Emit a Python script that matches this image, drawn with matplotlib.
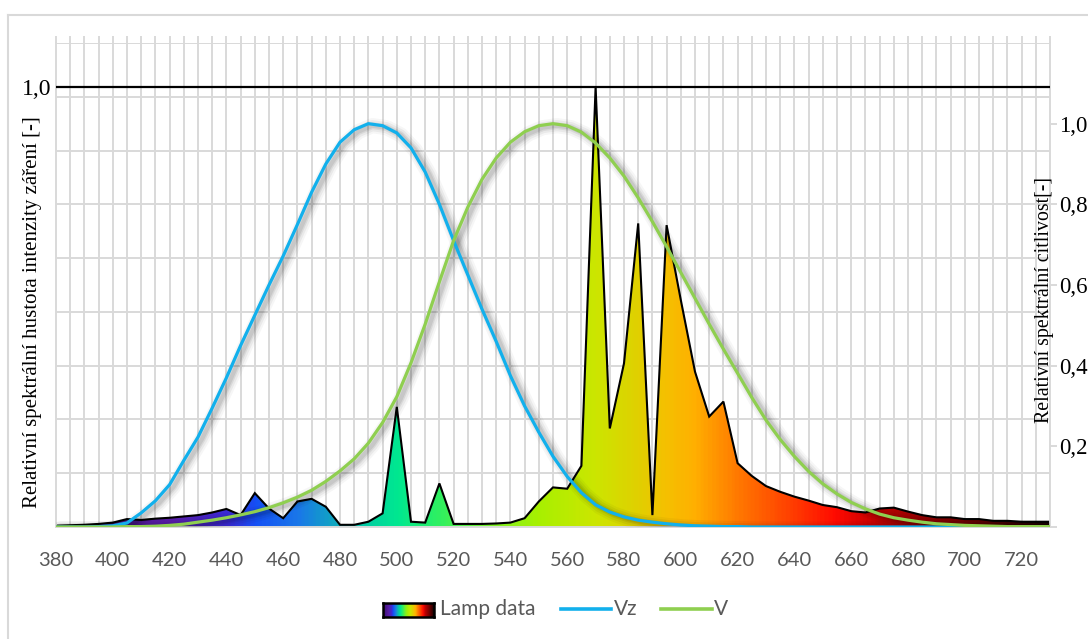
import matplotlib
matplotlib.use("Agg")
import numpy as np
import matplotlib.pyplot as plt
from matplotlib.colors import LinearSegmentedColormap
from matplotlib.patches import Polygon
from matplotlib.lines import Line2D
from matplotlib import transforms
from matplotlib.ticker import MultipleLocator, FixedLocator

# ---- data -------------------------------------------------------------
wavelengths = [380, 385, 390, 395, 400, 405, 410, 415, 420, 425, 430, 435,
               440, 445, 450, 455, 460, 465, 470, 475, 480, 485, 490, 495,
               500, 505, 510, 515, 520, 525, 530, 535, 540, 545, 550, 555,
               560, 565, 570, 575, 580, 585, 590, 595, 600, 605, 610, 615,
               620, 625, 630, 635, 640, 645, 650, 655, 660, 665, 670, 675,
               680, 685, 690, 695, 700, 705, 710, 715, 720, 725, 730]

lamp_data = [0.003, 0.004, 0.005, 0.007, 0.010, 0.018, 0.016, 0.019, 0.021,
             0.024, 0.027, 0.033, 0.041, 0.027, 0.077, 0.042, 0.020, 0.058,
             0.064, 0.046, 0.005, 0.005, 0.012, 0.031, 0.273, 0.012, 0.010,
             0.099, 0.007, 0.007, 0.007, 0.008, 0.010, 0.020, 0.058, 0.090,
             0.087, 0.139, 1.000, 0.224, 0.372, 0.690, 0.027, 0.686, 0.516,
             0.353, 0.251, 0.285, 0.145, 0.116, 0.093, 0.080, 0.069, 0.060,
             0.050, 0.045, 0.036, 0.033, 0.042, 0.044, 0.035, 0.027, 0.022,
             0.022, 0.018, 0.018, 0.014, 0.014, 0.012, 0.012, 0.012]

vz_curve = [0.000, 0.000, 0.000, 0.001, 0.003, 0.010, 0.035, 0.065, 0.105,
            0.165, 0.223, 0.295, 0.370, 0.450, 0.525, 0.600, 0.672, 0.750,
            0.830, 0.900, 0.954, 0.985, 1.000, 0.995, 0.977, 0.940, 0.880,
            0.800, 0.710, 0.625, 0.540, 0.460, 0.375, 0.300, 0.235, 0.175,
            0.125, 0.085, 0.055, 0.037, 0.025, 0.017, 0.012, 0.008, 0.005,
            0.003, 0.002, 0.001, 0.001, 0.000, 0.000, 0.000, 0.000, 0.000,
            0.000, 0.000, 0.000, 0.000, 0.000, 0.000, 0.000, 0.000, 0.000,
            0.000, 0.000, 0.000, 0.000, 0.000, 0.000, 0.000, 0.000]

v_curve = [0.000, 0.000, 0.000, 0.000, 0.000, 0.001, 0.001, 0.002, 0.004,
           0.007, 0.012, 0.017, 0.023, 0.030, 0.038, 0.048, 0.060, 0.074,
           0.091, 0.113, 0.139, 0.169, 0.208, 0.259, 0.323, 0.407, 0.503,
           0.608, 0.710, 0.793, 0.862, 0.915, 0.954, 0.980, 0.995, 1.000,
           0.995, 0.979, 0.952, 0.915, 0.870, 0.816, 0.757, 0.695, 0.631,
           0.567, 0.503, 0.441, 0.381, 0.321, 0.265, 0.217, 0.175, 0.138,
           0.107, 0.082, 0.061, 0.045, 0.032, 0.023, 0.017, 0.012, 0.008,
           0.006, 0.004, 0.003, 0.002, 0.001, 0.001, 0.001, 0.001]

x_tick_values = [380, 400, 420, 440, 460, 480, 500, 520, 540, 560, 580, 600,
                 620, 640, 660, 680, 700, 720]
right_tick_values = [0.0, 0.2, 0.4, 0.6, 0.8, 1.0]
right_tick_labels = ["", "0,2", "0,4", "0,6", "0,8", "1,0"]

left_label = "Relativní spektrální hustota intenzity záření [-]"
right_label = "Relativní spektrální citlivost[-]"
series_names = ["Lamp data", "Vz", "V"]

# ---- styling ----------------------------------------------------------
W, H = 1088, 639
BLUE = "#12b0ec"
GREEN = "#8fcf50"
GRID = "#d9d9d9"
TEXT = "#595959"
SANS = ["Lato", "DejaVu Sans"]
SERIF = ["Liberation Serif", "DejaVu Serif"]

# wavelength-to-colour ramp for the spectrum fill
spec_stops = [(380, "#3b0f70"), (420, "#5a1ea8"), (440, "#3a2ad8"),
              (450, "#1450f5"), (465, "#1a78e8"), (478, "#10a8c0"),
              (490, "#00d0a0"), (500, "#00e890"), (515, "#30f060"),
              (535, "#80f020"), (550, "#a8f000"), (570, "#cce600"),
              (585, "#e0d000"), (595, "#f5c000"), (605, "#ffb000"),
              (620, "#ff7a00"), (640, "#ff3c00"), (655, "#ff0a00"),
              (670, "#c00000"), (700, "#700000"), (730, "#1a0000")]
spec_cmap = LinearSegmentedColormap.from_list(
    "spectrum", [((w - 380) / 350, c) for w, c in spec_stops])

fig = plt.figure(figsize=(W / 100, H / 100), dpi=100)


def fx(px):
    return px / W


def fy(py):
    return 1 - py / H


# chart-area frame
fig.add_artist(Line2D([fx(8), 1.0], [fy(15), fy(15)], transform=fig.transFigure,
                      color=GRID, lw=1.5))
fig.add_artist(Line2D([fx(8), fx(8)], [fy(15), 0.0], transform=fig.transFigure,
                      color=GRID, lw=1.5))

left, right, top, bottom = 56, 1050, 43, 527
ax = fig.add_axes([fx(left), fy(bottom), fx(right - left), (bottom - top) / H])
ax.set_xlim(380, 730)
ax.set_ylim(0, 1.1)

# grid: vertical every 5 nm, horizontal in nine equal bands
for w in wavelengths[1:-1]:
    ax.axvline(w, color=GRID, lw=1.4, zorder=0.5)
for k in range(1, 10):
    ax.axhline(1.1 * k / 9, color=GRID, lw=1.4, zorder=0.5)

for side in ("left", "right", "bottom", "top"):
    ax.spines[side].set_color(GRID)
    ax.spines[side].set_linewidth(1.4)
ax.spines["top"].set_visible(False)

ax.xaxis.set_major_locator(FixedLocator(x_tick_values))
ax.set_xticklabels([str(v) for v in x_tick_values])
ax.xaxis.set_minor_locator(MultipleLocator(5))
ax.tick_params(axis="x", which="both", bottom=False, top=True, labelbottom=True,
               direction="out", length=5, width=1.4, color=GRID)
ax.tick_params(axis="x", which="major", pad=13, labelsize=14.5, labelcolor=TEXT)
for t in ax.get_xticklabels():
    t.set_fontfamily(SANS)

ax.set_yticks([1.0])
ax.set_yticklabels(["1,0"])
ax.tick_params(axis="y", length=0, pad=3, labelsize=17, labelcolor="black")
for t in ax.get_yticklabels():
    t.set_fontfamily(SERIF)

# reference line at 1,0
ax.axhline(1.0, color="black", lw=1.6, zorder=3)

# spectrum: gradient image clipped to the area under the lamp curve
verts = [(wavelengths[0], 0)] + list(zip(wavelengths, lamp_data)) + [(wavelengths[-1], 0)]
clip_poly = Polygon(verts, closed=True, facecolor="none", edgecolor="none",
                    transform=ax.transData)
ax.add_patch(clip_poly)
grad = np.linspace(0, 1, 700).reshape(1, -1)
img = ax.imshow(grad, extent=[380, 730, 0, 1.1], aspect="auto", cmap=spec_cmap,
                origin="lower", interpolation="bilinear", zorder=1)
img.set_clip_path(clip_poly)
ax.plot(wavelengths, lamp_data, color="black", lw=1.5, zorder=2,
        solid_joinstyle="miter")
ax.plot([wavelengths[-1], wavelengths[-1]], [0, lamp_data[-1]], color="black",
        lw=1.5, zorder=2)
ax.set_xlim(380, 730)
ax.set_ylim(0, 1.1)

# sensitivity curves on the secondary axis
ax2 = ax.twinx()
ax2.set_ylim(0, 1.2)
ax2.set_xlim(380, 730)
for side in ("left", "right", "bottom", "top"):
    ax2.spines[side].set_visible(False)
ax2.set_yticks(right_tick_values)
ax2.set_yticklabels(right_tick_labels)
ax2.tick_params(axis="y", direction="out", length=5, width=1.4, color=GRID,
                pad=1.5, labelsize=16.5, labelcolor="black")
for t in ax2.get_yticklabels():
    t.set_fontfamily(SERIF)

# soft drop shadow under each curve
for ys in (vz_curve, v_curve):
    for lw, a in ((11, 0.035), (8, 0.05), (5, 0.07), (3, 0.08)):
        off = transforms.offset_copy(ax2.transData, fig=fig, x=4, y=-2, units="dots")
        ax2.plot(wavelengths, ys, color="black", lw=lw, alpha=a, transform=off,
                 solid_capstyle="round", zorder=1)
ax2.plot(wavelengths, vz_curve, color=BLUE, lw=2.3, zorder=3,
         solid_capstyle="round")
ax2.plot(wavelengths, v_curve, color=GREEN, lw=2.3, zorder=3,
         solid_capstyle="round")

# axis titles
fig.text(fx(33), fy(312), left_label, rotation=90, ha="center", va="center",
         fontsize=15, family=SERIF)
fig.text(fx(1044), fy(300), right_label, rotation=90, ha="center", va="center",
         fontsize=14.3, family=SERIF)

# legend
ly = fy(609)
sw = fig.add_axes([fx(383), fy(617), fx(51), 14 / H])
sw.imshow(grad, aspect="auto", cmap=spec_cmap, extent=[0, 1, 0, 1])
sw.set_xticks([])
sw.set_yticks([])
for s in sw.spines.values():
    s.set_color("black")
    s.set_linewidth(1.8)
fig.text(fx(440), ly, series_names[0], ha="left", va="center", fontsize=15,
         color=TEXT, family=SANS)
fig.add_artist(Line2D([fx(561), fx(611)], [ly, ly], transform=fig.transFigure,
                      color=BLUE, lw=2.6))
fig.text(fx(614), ly, series_names[1], ha="left", va="center", fontsize=15,
         color=TEXT, family=SANS)
fig.add_artist(Line2D([fx(661), fx(712)], [ly, ly], transform=fig.transFigure,
                      color=GREEN, lw=2.6))
fig.text(fx(714), ly, series_names[2], ha="left", va="center", fontsize=15,
         color=TEXT, family=SANS)

fig.savefig("out.png", dpi=100, facecolor="white")
